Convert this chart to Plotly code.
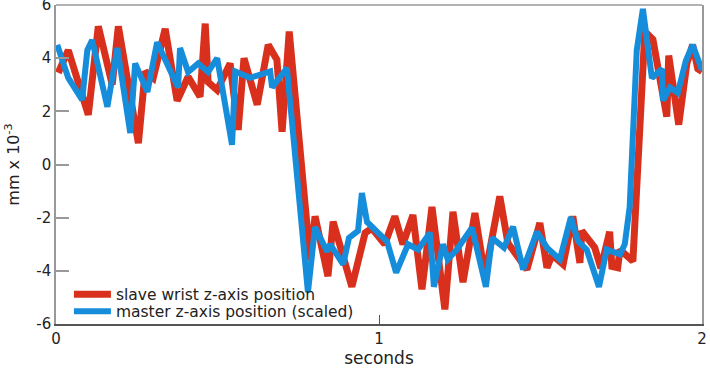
import plotly.graph_objects as go

# time (seconds) and position (mm x 10^-3)
slave_t = [0.007, 0.038, 0.100, 0.131, 0.174, 0.193, 0.255, 0.276, 0.301, 0.338,
           0.375, 0.409, 0.446, 0.462, 0.471, 0.499, 0.539, 0.564, 0.582, 0.623,
           0.657, 0.684, 0.700, 0.722, 0.787, 0.802, 0.842, 0.858, 0.916, 0.957,
           0.978, 1.018, 1.049, 1.074, 1.105, 1.133, 1.164, 1.204, 1.229, 1.260,
           1.297, 1.328, 1.374, 1.399, 1.458, 1.498, 1.520, 1.536, 1.570, 1.600,
           1.622, 1.628, 1.668, 1.687, 1.714, 1.721, 1.739, 1.746, 1.786, 1.823,
           1.848, 1.891, 1.897, 1.928, 1.953, 1.971, 1.987, 2.000]
slave_z = [3.45, 4.3, 1.87, 5.2, 3.0, 5.2, 0.8, 3.5, 3.25, 5.1,
           2.4, 3.3, 2.55, 5.3, 3.1, 2.8, 3.8, 1.3, 4.0, 2.25,
           4.5, 3.94, 1.23, 5.0, -3.6, -1.95, -4.2, -2.15, -4.6, -2.57,
           -2.4, -3.0, -1.95, -3.0, -1.9, -4.7, -1.6, -5.45, -1.78, -4.43,
           -1.83, -4.2, -1.2, -2.95, -3.95, -2.2, -3.88, -3.4, -3.76, -1.95,
           -3.7, -2.5, -3.13, -3.9, -2.53, -3.83, -3.88, -3.2, -3.64, 5.0,
           4.7, 1.8, 4.1, 1.5, 3.8, 4.5, 3.6, 3.5]

master_t = [0.004, 0.038, 0.081, 0.097, 0.112, 0.159, 0.190, 0.230, 0.245, 0.283,
            0.313, 0.378, 0.384, 0.409, 0.440, 0.471, 0.499, 0.545, 0.555, 0.601,
            0.663, 0.669, 0.715, 0.780, 0.802, 0.839, 0.849, 0.889, 0.907, 0.935,
            0.947, 0.963, 1.025, 1.053, 1.090, 1.121, 1.158, 1.170, 1.198, 1.213,
            1.241, 1.288, 1.331, 1.350, 1.387, 1.415, 1.446, 1.489, 1.520, 1.560,
            1.594, 1.616, 1.643, 1.681, 1.705, 1.746, 1.761, 1.776, 1.798, 1.817,
            1.845, 1.876, 1.879, 1.901, 1.925, 1.950, 1.971, 2.000]
master_z = [4.5, 3.26, 2.43, 4.3, 4.68, 2.17, 4.38, 1.18, 3.8, 2.73,
            4.6, 2.9, 4.38, 3.48, 3.8, 3.48, 4.0, 0.74, 3.5, 3.26,
            3.5, 2.9, 3.63, -4.8, -2.35, -3.27, -3.0, -3.76, -2.76, -2.5,
            -1.07, -2.16, -2.9, -4.07, -3.0, -3.2, -2.57, -4.6, -3.0, -3.57,
            -3.2, -2.38, -4.6, -2.76, -3.13, -2.34, -3.95, -2.53, -3.13, -3.57,
            -1.98, -2.88, -3.2, -4.6, -3.2, -3.38, -3.0, -1.6, 4.3, 5.85,
            3.25, 3.6, 2.4, 2.9, 2.7, 3.9, 4.5, 3.55]

y_ticks = [-6, -4, -2, 0, 2, 4, 6]
x_ticks = [0, 1, 2]

FONT = "'DejaVu Sans', sans-serif"
RED = "#d8301d"
BLUE = "#168ddb"
TXT = "#222"

fig = go.Figure()
fig.add_trace(go.Scatter(x=slave_t, y=slave_z, mode="lines",
                         name="slave wrist z-axis position",
                         line=dict(color=RED, width=7), legend="legend"))
fig.add_trace(go.Scatter(x=master_t, y=master_z, mode="lines",
                         name="master z-axis position (scaled)",
                         line=dict(color=BLUE, width=6), legend="legend2"))

leg_common = dict(font=dict(family=FONT, size=15.5, color=TXT),
                  bgcolor="rgba(0,0,0,0)", borderwidth=0,
                  xanchor="left", yanchor="middle", itemwidth=37)
fig.update_layout(
    width=710, height=368,
    margin=dict(l=56, r=8, t=5, b=44, autoexpand=False),
    paper_bgcolor="white", plot_bgcolor="white",
    font=dict(family=FONT, size=15, color=TXT),
    showlegend=True,
    legend=dict(x=0.020, y=0.092, **leg_common),
    legend2=dict(x=0.020, y=0.0385, **leg_common),
    xaxis=dict(range=[0, 2], tickvals=x_ticks, ticktext=[str(v) for v in x_ticks],
               ticks="inside", ticklen=9, tickcolor="#555", tickwidth=1,
               showline=True, linecolor="#555", linewidth=1.5,
               showgrid=False, zeroline=False, automargin=False,
               ticklabeloverflow="allow",
               tickfont=dict(size=15, color=TXT),
               title=dict(text="seconds", font=dict(size=17, color=TXT), standoff=0)),
    yaxis=dict(range=[-6, 6], tickvals=y_ticks, ticktext=[str(v) for v in y_ticks],
               ticks="inside", ticklen=13, tickcolor="#999", tickwidth=1.5,
               showline=True, linecolor="#999", linewidth=1.5, mirror=True,
               showgrid=False, zeroline=False, automargin=False,
               ticklabeloverflow="allow",
               tickfont=dict(size=15, color=TXT),
               title=dict(text="mm x 10<sup>-3</sup>", font=dict(size=16, color=TXT), standoff=13)),
    shapes=[dict(type="line", xref="paper", yref="paper", x0=0, x1=1, y0=1, y1=1,
                 line=dict(color="#999", width=1.5))],
)

fig.write_html("out.html", config={"displayModeBar": False},
               post_script="document.body.style.margin='0';document.body.style.padding='0';")
